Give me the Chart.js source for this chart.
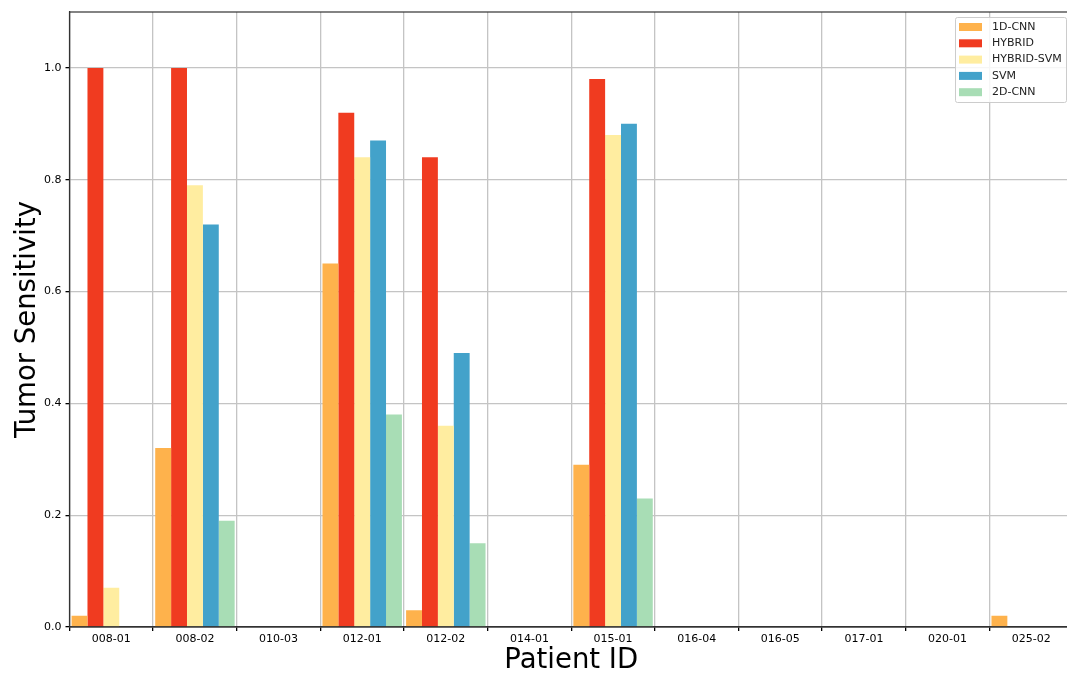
<!DOCTYPE html>
<html><head><meta charset="utf-8">
<script src="https://cdn.jsdelivr.net/npm/chart.js@4"></script>
<style>html,body{margin:0;padding:0;background:#fff;overflow:hidden}#o{width:1067px;height:673px;overflow:hidden;position:relative}#w{width:1074px;height:677px;position:absolute;left:0;top:0}</style>
</head><body><div id="o"><div id="w"><canvas id="c"></canvas></div></div>
<script>
const categories = ["008-01","008-02","010-03","012-01","012-02","014-01","015-01","016-04","016-05","017-01","020-01","025-02"];
const cnn1d     = [0.02, 0.32, 0, 0.65, 0.03, 0, 0.29, 0, 0, 0, 0, 0.02];
const hybrid    = [1.00, 1.00, 0, 0.92, 0.84, 0, 0.98, 0, 0, 0, 0, 0];
const hybridSvm = [0.07, 0.79, 0, 0.84, 0.36, 0, 0.88, 0, 0, 0, 0, 0];
const svm       = [0, 0.72, 0, 0.87, 0.49, 0, 0.90, 0, 0, 0, 0, 0];
const cnn2d     = [0, 0.19, 0, 0.38, 0.15, 0, 0.23, 0, 0, 0, 0, 0];
const seriesNames = ["1D-CNN","HYBRID","HYBRID-SVM","SVM","2D-CNN"];
const seriesColors = ["#feb24c","#f03b20","#ffeda0","#43a2ca","#a8ddb5"];
const yTicks = [0.0,0.2,0.4,0.6,0.8,1.0];

const boxPlugin = {
  id:'box',
  afterDraw(chart){
    const {ctx, chartArea:a} = chart;
    ctx.save();
    ctx.strokeStyle='#333'; ctx.lineWidth=1.2;
    ctx.strokeRect(a.left, a.top, a.right-a.left, a.bottom-a.top);
    // legend
    const x0 = 955, y0 = a.top+5, w=111, h=85;
    ctx.fillStyle='rgba(255,255,255,0.85)';
    ctx.strokeStyle='#ccc'; ctx.lineWidth=1;
    ctx.beginPath();
    ctx.roundRect ? ctx.roundRect(x0+0.5,y0+0.5,w,h,2) : ctx.rect(x0+0.5,y0+0.5,w,h);
    ctx.fill(); ctx.stroke();
    ctx.font='11px "DejaVu Sans"'; ctx.textBaseline='middle'; ctx.textAlign='left';
    chart.data.datasets.forEach((ds,i)=>{
      const cy = y0+10+i*16.3;
      ctx.fillStyle=ds.backgroundColor;
      ctx.fillRect(x0+4, cy-4, 23, 8);
      ctx.fillStyle='#222';
      ctx.fillText(ds.label, x0+37, cy);
    });
    ctx.restore();
  }
};

const vals = [cnn1d, hybrid, hybridSvm, svm, cnn2d];
new Chart(document.getElementById('c'), {
  type:'bar',
  data:{
    labels:categories,
    datasets: seriesNames.map((n,i)=>({label:n, data:vals[i], backgroundColor:seriesColors[i], borderWidth:0, categoryPercentage:0.95, barPercentage:1.0}))
  },
  options:{
    responsive:true, maintainAspectRatio:false, animation:false,
    layout:{padding:{top:12,right:1,left:0,bottom:0}},
    plugins:{legend:{display:false}, tooltip:{enabled:false}},
    scales:{
      x:{
        grid:{offset:true, color:'#c4c4c4', lineWidth:1.3, tickLength:4, tickColor:'#000'},
        border:{display:true,color:'#333',width:1.2},
        ticks:{color:'#000', font:{family:'DejaVu Sans', size:11}, padding:2, maxRotation:0, autoSkip:false},
        title:{display:true, text:'Patient ID', color:'#000', font:{family:'DejaVu Sans', size:27.5}, padding:{top:0,bottom:0}},
        afterFit(s){ s.height = 50; }
      },
      y:{
        min:0, max:1.1,
        afterBuildTicks(s){ s.ticks = yTicks.map(v=>({value:v})); },
        grid:{color:'#c4c4c4', lineWidth:1.3, tickLength:4, tickColor:'#000'},
        border:{display:true,color:'#333',width:1.2},
        ticks:{color:'#000', font:{family:'DejaVu Sans', size:11}, padding:4, callback:v=>v.toFixed(1)},
        title:{display:true, text:'Tumor Sensitivity', color:'#000', font:{family:'DejaVu Sans', size:27.5}, padding:{top:11,bottom:0}},
        afterFit(s){ s.width = 69.5; }
      }
    }
  },
  plugins:[boxPlugin]
});
</script>
</body></html>
